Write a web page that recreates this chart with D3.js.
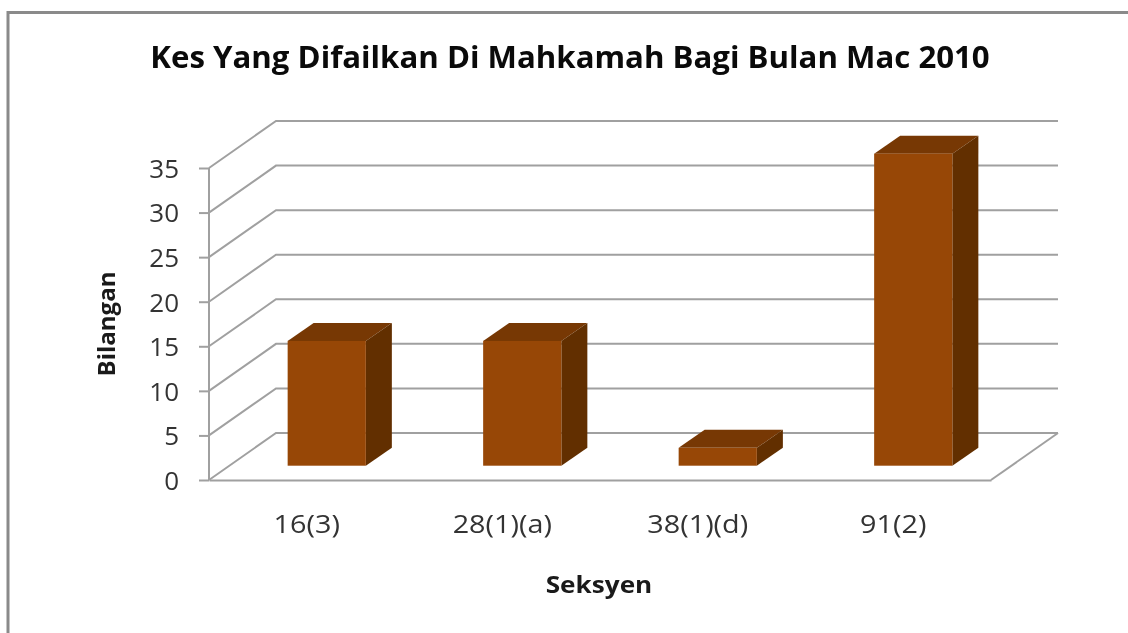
<!DOCTYPE html>
<html>
<head>
<meta charset="utf-8">
<script src="https://cdn.jsdelivr.net/npm/d3@7"></script>
<style>
  html, body { margin: 0; padding: 0; background: #fff; overflow: hidden; }
  svg { display: block; filter: blur(0.5px); }
  text { font-family: "Open Sans", sans-serif; }
</style>
</head>
<body>
<div id="chart"></div>
<script>
// values
var categories = ["16(3)", "28(1)(a)", "38(1)(d)", "91(2)"];
var counts = [14, 14, 2, 35];
var yTicks = [0, 5, 10, 15, 20, 25, 30, 35];

var width = 1128, height = 633;

// front plane of the plot
var margin = { top: 168, right: 137, bottom: 153, left: 209 },
    plotW = width - margin.left - margin.right,
    plotH = height - margin.top - margin.bottom;

// how far the back wall and the bars sit behind the front plane
var wallDx = 67, wallDy = -47;
var barShiftX = 20, barShiftY = -14.3;
var barDx = 26, barDy = -18;

var gridColor = "#a0a0a0";

var svg = d3.select("#chart")
    .append("svg")
    .attr("width", width)
    .attr("height", height);

// outer frame, runs off the picture on the right and bottom
svg.append("path")
    .attr("d", "M8,633V12.5H1128")
    .attr("fill", "none")
    .attr("stroke", "#8a8a8a")
    .attr("stroke-width", 3);

var g = svg.append("g")
    .attr("transform", `translate(${margin.left} ${margin.top})`);

var x = d3.scaleBand()
    .domain(categories)
    .range([0, plotW])
    .paddingInner(0.6)
    .paddingOuter(0.3);

var y = d3.scaleLinear()
    .domain([0, 35])
    .range([plotH, 0]);

// gridlines: side wall diagonal then back wall
g.selectAll(".grid")
    .data(yTicks)
    .enter()
    .append("path")
    .attr("class", "grid")
    .attr("fill", "none")
    .attr("stroke", gridColor)
    .attr("stroke-width", 2)
    .attr("d", function (d) {
        return d3.line()([
            [0, y(d)],
            [wallDx, y(d) + wallDy],
            [plotW + wallDx, y(d) + wallDy]
        ]);
    });

// floor edge on the right
g.append("path")
    .attr("fill", "none")
    .attr("stroke", gridColor)
    .attr("stroke-width", 2)
    .attr("d", d3.line()([[plotW, plotH], [plotW + wallDx, plotH + wallDy]]));

// Y axis
var yAxis = g.append("g")
    .call(d3.axisLeft(y).tickValues(yTicks).tickSize(10).tickPadding(20));
yAxis.selectAll("line, path")
    .attr("stroke", gridColor)
    .attr("stroke-width", 2);
yAxis.select(".domain").attr("d", `M0,${plotH}V0`);
yAxis.selectAll("text")
    .attr("fill", "#333")
    .style("font-size", "26px")
    .attr("dy", "0.36em");

// X axis
var xAxis = g.append("g")
    .attr("transform", `translate(0,${plotH})`)
    .call(d3.axisBottom(x).tickSize(0).tickPadding(35));
xAxis.select(".domain")
    .attr("stroke", gridColor)
    .attr("stroke-width", 2);
xAxis.selectAll("text")
    .attr("fill", "#333")
    .attr("transform", "scale(1.15 1)")
    .style("font-size", "25px");

// Bars
var bar = g.selectAll(".bar")
    .data(categories)
    .enter()
    .append("g")
    .attr("class", "bar")
    .attr("transform", `translate(${barShiftX} ${barShiftY})`);

// top face
bar.append("path")
    .attr("fill", "#773804")
    .attr("d", function (d, i) {
        var x0 = x(d), x1 = x0 + x.bandwidth(), t = y(counts[i]);
        return d3.line()([[x0, t], [x0 + barDx, t + barDy], [x1 + barDx, t + barDy], [x1, t]]) + "Z";
    });

// side face
bar.append("path")
    .attr("fill", "#622f00")
    .attr("d", function (d, i) {
        var x1 = x(d) + x.bandwidth(), t = y(counts[i]);
        return d3.line()([[x1, t], [x1 + barDx, t + barDy], [x1 + barDx, y(0) + barDy], [x1, y(0)]]) + "Z";
    });

// front face
bar.append("rect")
    .attr("fill", "#974706")
    .attr("x", function (d) { return x(d); })
    .attr("y", function (d, i) { return y(counts[i]); })
    .attr("width", x.bandwidth())
    .attr("height", function (d, i) { return y(0) - y(counts[i]); });

// Titles
svg.append("text")
    .attr("transform", "translate(570 68) scale(1.04 1)")
    .attr("text-anchor", "middle")
    .style("font-size", "30px")
    .style("font-weight", "700")
    .attr("fill", "#0a0a0a")
    .text("Kes Yang Difailkan Di Mahkamah Bagi Bulan Mac 2010");

svg.append("text")
    .attr("transform", "translate(115 324) rotate(-90)")
    .attr("text-anchor", "middle")
    .style("font-size", "24px")
    .style("font-weight", "700")
    .attr("fill", "#1a1a1a")
    .text("Bilangan");

svg.append("text")
    .attr("transform", "translate(599 593) scale(1.09 1)")
    .attr("text-anchor", "middle")
    .style("font-size", "24px")
    .style("font-weight", "700")
    .attr("fill", "#1a1a1a")
    .text("Seksyen");
</script>
</body>
</html>
